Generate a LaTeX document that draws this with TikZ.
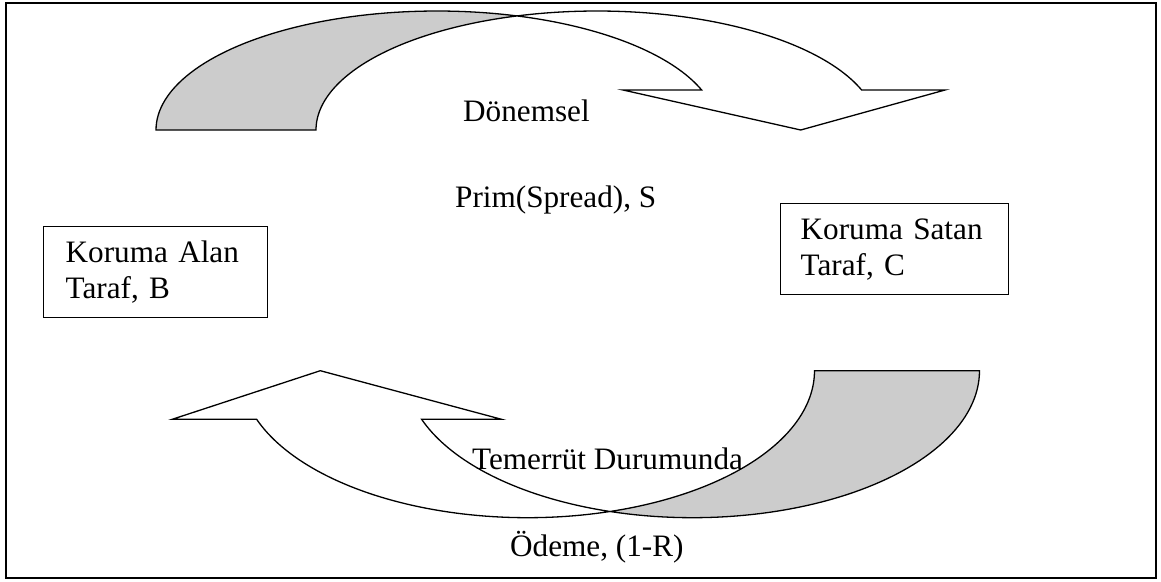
\documentclass[tikz,border=0pt]{standalone}
\usepackage{fontspec}
\setmainfont{Liberation Serif}
\definecolor{bandgray}{RGB}{204,204,204}
\begin{document}
\begin{tikzpicture}[x=1pt, y=-1pt,
  font=\fontsize{31.2}{36}\selectfont,
  outerframe/.style={draw, line width=2.6pt},
  band/.style={draw, line width=1.3pt, line join=miter, fill=white},
  backband/.style={band, fill=bandgray},
  party/.style={draw, line width=1.3pt, anchor=north west, align=left,
    inner ysep=0pt, minimum height=91pt},
  lbl/.style={inner sep=0pt, anchor=base west}]
\useasboundingbox (0,0) rectangle (1161,581);

% outer frame
\draw[outerframe] (6,3) rectangle (1156,578);

% ---- upper curved arrow (premium leg), two equal ellipses 160 apart ----
\coordinate (tHeadL) at (623,90);
\coordinate (tTip)   at (800.7,130);
\coordinate (tHeadR) at (945,90);
% back face
\draw[backband]
  plot[domain=286.54:180, samples=60] ({437+281*cos(\x)},{130+119*sin(\x)})
  -- plot[domain=180:253.46, samples=60] ({597+281*cos(\x)},{130+119*sin(\x)})
  -- cycle;
% front face with arrowhead
\draw[band]
  plot[domain=286.54:340.36, samples=40] ({437+281*cos(\x)},{130+119*sin(\x)})
  -- (tHeadL) -- (tTip) -- (tHeadR)
  -- plot[domain=340.36:253.46, samples=60] ({597+281*cos(\x)},{130+119*sin(\x)})
  -- cycle;

% ---- lower curved arrow (default payment leg) ----
\coordinate (bHeadR) at (501.5,419.3);
\coordinate (bTip)   at (320.3,370.7);
\coordinate (bHeadL) at (172.2,419.3);
% back face
\draw[backband]
  plot[domain=106.7:0, samples=60] ({692.5+287*cos(\x)},{370.7+147*sin(\x)})
  -- plot[domain=0:73.3, samples=60] ({527.5+287*cos(\x)},{370.7+147*sin(\x)})
  -- cycle;
% front face with arrowhead
\draw[band]
  plot[domain=106.7:160.7, samples=40] ({692.5+287*cos(\x)},{370.7+147*sin(\x)})
  -- (bHeadR) -- (bTip) -- (bHeadL)
  -- plot[domain=160.7:73.3, samples=60] ({527.5+287*cos(\x)},{370.7+147*sin(\x)})
  -- cycle;

% parties
\node[party, text width=180pt, inner xsep=22pt] (buyer)  at (43,226) {Koruma Alan\\Taraf, B};
\node[party, text width=188pt, inner xsep=20pt] (seller) at (780,203) {Koruma Satan\\Taraf, C};

% labels
\node[lbl] (periodic) at (463,121)   {Dönemsel};
\node[lbl] (premium)  at (455,207)   {Prim(Spread), S};
\node[lbl] (default)  at (472,469)   {Temerrüt Durumunda};
\node[lbl] (payoff)   at (510,556.5) {Ödeme, (1-R)};
\end{tikzpicture}
\end{document}
